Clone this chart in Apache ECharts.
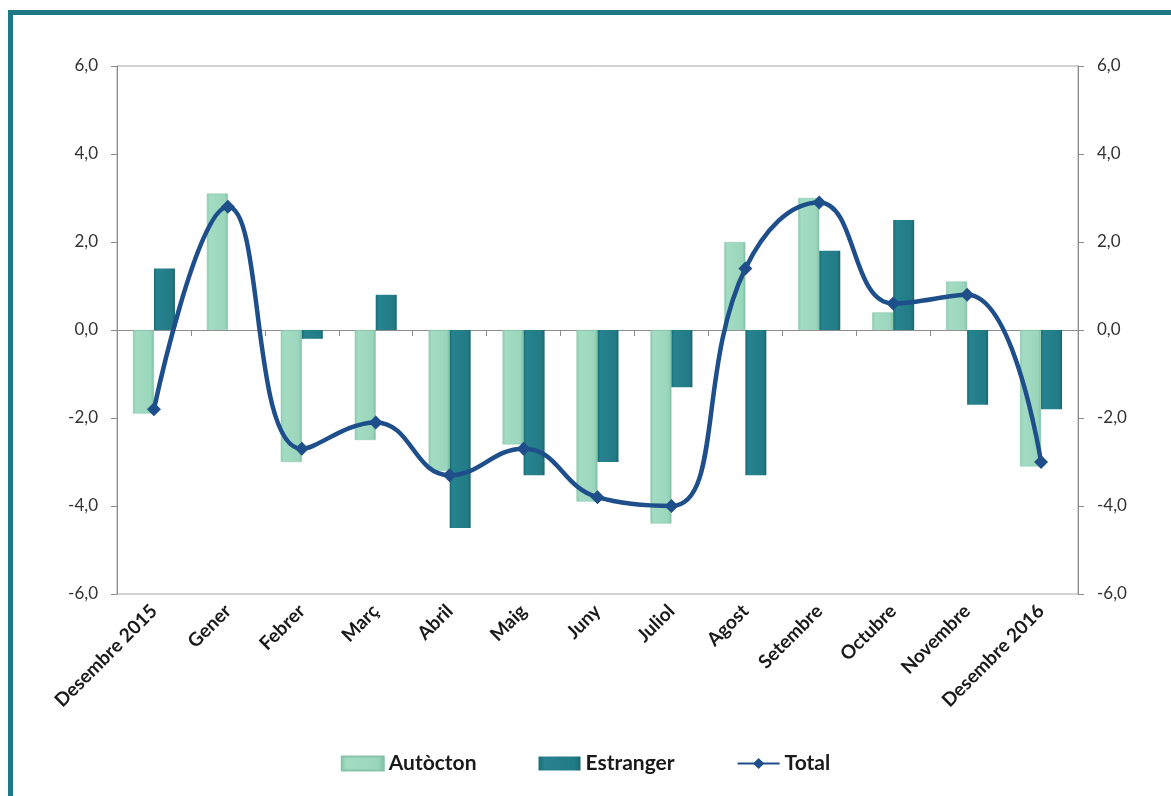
<!DOCTYPE html>
<html>
<head>
<meta charset="utf-8">
<script src="https://cdn.jsdelivr.net/npm/echarts@6/dist/echarts.min.js"></script>
<style>
  html, body { margin: 0; padding: 0; background: #fff; }
  #frame {
    position: absolute; left: 8px; top: 10px; width: 1163px; height: 786px;
    border-top: 5px solid #1e7985; border-left: 5px solid #1e7985;
    box-sizing: border-box;
  }
  #chart { position: absolute; left: 0; top: 0; width: 1171px; height: 796px; }
</style>
</head>
<body>
<div id="frame"></div>
<div id="chart"></div>
<script>
const months = ["Desembre 2015", "Gener", "Febrer", "Març", "Abril", "Maig", "Juny",
	"Juliol", "Agost", "Setembre", "Octubre", "Novembre", "Desembre 2016"];
const autocton = [-1.9, 3.1, -3.0, -2.5, -3.2, -2.6, -3.9, -4.4, 2.0, 3.0, 0.4, 1.1, -3.1];
const estranger = [1.4, 0.0, -0.2, 0.8, -4.5, -3.3, -3.0, -1.3, -3.3, 1.8, 2.5, -1.7, -1.8];
const total = [-1.8, 2.8, -2.7, -2.1, -3.3, -2.7, -3.8, -4.0, 1.4, 2.9, 0.6, 0.8, -3.0];

const chart = echarts.init(document.getElementById("chart"));

const fmt = (v) => v.toFixed(1).replace(".", ",");

// valueAxis shared look for both sides
const valueAxis = (pos) => ({
	type: "value",
	position: pos,
	min: -6,
	max: 6,
	interval: 2,
	axisLine: { show: true, lineStyle: { color: "#8c8c8c", width: 1 } },
	axisTick: { show: true, length: 6, lineStyle: { color: "#8c8c8c" } },
	splitLine: { show: false },
	axisLabel: {
		color: "#333",
		fontSize: 17,
		fontFamily: "Lato",
		margin: 19,
		formatter: fmt,
	},
});

const autoctonColor = new echarts.graphic.LinearGradient(0, 0, 1, 0, [
	{ offset: 0, color: "#8ccdb1" },
	{ offset: 0.15, color: "#a3dcc3" },
	{ offset: 0.85, color: "#9ad6bc" },
	{ offset: 1, color: "#7fbfa4" },
]);
const estrangerColor = new echarts.graphic.LinearGradient(0, 0, 1, 0, [
	{ offset: 0, color: "#1b6e78" },
	{ offset: 0.15, color: "#26838f" },
	{ offset: 0.85, color: "#227b86" },
	{ offset: 1, color: "#1a6770" },
]);

chart.setOption({
	animation: false,
	grid: {
		left: 117,
		right: 93,
		top: 66,
		bottom: 202,
		show: true,
		borderColor: "#a6a6a6",
		borderWidth: 1,
	},
	legend: {
		bottom: 17,
		left: "center",
		itemWidth: 42,
		itemHeight: 14,
		itemGap: 62,
		textStyle: { fontSize: 21, fontWeight: "bold", color: "#1a1a1a", fontFamily: "Lato" },
		data: [
			{ name: "Autòcton", icon: "rect" },
			{ name: "Estranger", icon: "rect" },
			{ name: "Total" },
		],
	},
	xAxis: {
		type: "category",
		data: months,
		axisLine: { onZero: true, lineStyle: { color: "#8c8c8c" } },
		axisTick: { show: true, length: 6, lineStyle: { color: "#8c8c8c" } },
		axisLabel: {
			rotate: 45,
			interval: 0,
			color: "#1a1a1a",
			fontSize: 19,
			fontWeight: "bold",
			fontFamily: "Lato",
			margin: 14,
		},
	},
	yAxis: [valueAxis("left"), valueAxis("right")],
	series: [
		{
			name: "Autòcton",
			type: "bar",
			data: autocton,
			barWidth: 21,
			barGap: "0%",
			itemStyle: { color: autoctonColor, borderColor: "#86c4aa", borderWidth: 0.5 },
		},
		{
			name: "Estranger",
			type: "bar",
			data: estranger,
			barWidth: 21,
			itemStyle: { color: estrangerColor, borderWidth: 0 },
		},
		{
			name: "Total",
			type: "line",
			yAxisIndex: 1,
			data: total,
			smooth: 0.45,
			symbol: "diamond",
			symbolSize: 14,
			lineStyle: { color: "#1f4f8a", width: 4.5 },
			itemStyle: { color: "#1f4f8a" },
			z: 5,
		},
	],
});
</script>
</body>
</html>
